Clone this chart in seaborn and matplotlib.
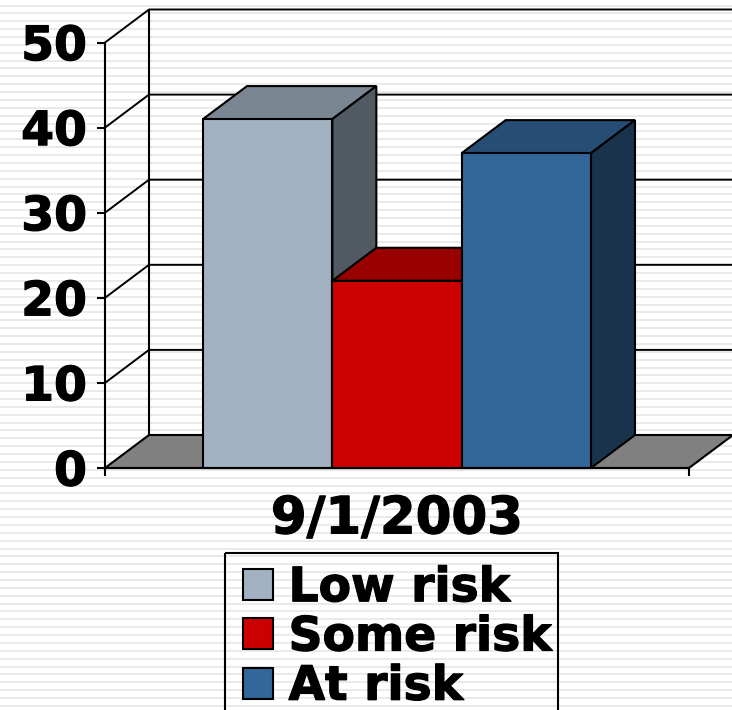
import matplotlib
matplotlib.use("Agg")
import matplotlib.pyplot as plt
import matplotlib.patheffects as pe
from matplotlib.patches import Patch, Polygon, Rectangle
import numpy as np
import pandas as pd
import seaborn as sns

# Survey results
date_label = ["9/1/2003"]
risk_groups = ["Low risk", "Some risk", "At risk"]
risk_values = [41, 22, 37]
y_ticks = [0, 10, 20, 30, 40, 50]

front_colors = ["#A2B2C2", "#CC0000", "#336699"]
top_colors = ["#7A8692", "#990000", "#264D73"]
side_colors = ["#515A62", "#660000", "#1A334D"]
floor_color = "#808080"
stripe_color = "#E8E8E8"

W, H = 732, 710
LEFT, RIGHT, BASE, TOP = 105, 689, 468, 42.5
PX_X = 1 / (RIGHT - LEFT)            # category units per pixel
PX_Y = 50 / (BASE - TOP)             # value units per pixel
DEPTH_X, DEPTH_Y = 44 * PX_X, 33 * PX_Y
LW = 1.5

sns.set_theme(style="white")
plt.rcParams["font.family"] = ["DejaVu Sans"]
plt.rcParams["font.weight"] = "bold"

fig = plt.figure(figsize=(W / 100, H / 100), dpi=100, facecolor="white")

# Slide background: thin horizontal pinstripes across the whole figure
bg = fig.add_axes([0, 0, 1, 1], zorder=0)
bg.set_xlim(0, W)
bg.set_ylim(H, 0)
bg.axis("off")
bg.hlines(np.arange(5.5, H, 7.87), 0, W, color=stripe_color, lw=1.3, zorder=1)

# Legend frame, running off the lower edge of the figure
bg.add_patch(Rectangle((225, 553), 333, 165, facecolor="none", edgecolor="black",
                       lw=1.5, zorder=3))

ax = fig.add_axes([LEFT / W, 1 - BASE / H, (RIGHT - LEFT) / W, (BASE - TOP) / H], zorder=1)
ax.patch.set_alpha(0)

df = pd.DataFrame({
    "date": date_label * len(risk_groups),
    "risk": risk_groups,
    "value": risk_values,
})
sns.barplot(
    data=df, x="date", y="value", hue="risk", hue_order=risk_groups,
    palette=front_colors, width=388 / 584, gap=0, saturation=1,
    edgecolor="black", linewidth=LW, legend=False, ax=ax,
)
ax.set_xlim(-0.5, 0.5)
ax.set_ylim(0, 50)


def face(points, color, z):
    ax.add_patch(Polygon(points, closed=True, facecolor=color, edgecolor="black",
                         lw=LW, joinstyle="miter", clip_on=False, zorder=z))


# Floor of the box
x0, x1 = -0.5, 0.5
face([(x0, 0), (x0 + DEPTH_X, DEPTH_Y), (x1 + DEPTH_X, DEPTH_Y), (x1, 0)], floor_color, 1.5)

# Back wall frame and receding gridlines
for v in y_ticks[1:]:
    ax.plot([x0, x0 + DEPTH_X, x1 + DEPTH_X], [v, v + DEPTH_Y, v + DEPTH_Y],
            color="black", lw=1.4, clip_on=False, zorder=1)
ax.plot([x0 + DEPTH_X] * 2, [DEPTH_Y, 50 + DEPTH_Y], color="black", lw=1.5,
        clip_on=False, zorder=1)

# Extrude each bar: top and side faces behind its front face
bars = [p for p in ax.patches if isinstance(p, Rectangle)][:len(risk_groups)]
for i, bar in enumerate(bars):
    xa, xb = bar.get_x(), bar.get_x() + bar.get_width()
    v = bar.get_height()
    z = 3 + 2 * i
    face([(xa, v), (xa + DEPTH_X, v + DEPTH_Y), (xb + DEPTH_X, v + DEPTH_Y), (xb, v)], top_colors[i], z)
    face([(xb, 0), (xb + DEPTH_X, DEPTH_Y), (xb + DEPTH_X, v + DEPTH_Y), (xb, v)], side_colors[i], z)
    bar.set_zorder(z + 1)
    bar.set_clip_on(False)

# Axes: value ticks on the left, category boundaries marked below
sns.despine(ax=ax, top=True, right=True)
for name in ("left", "bottom"):
    ax.spines[name].set_color("black")
    ax.spines[name].set_linewidth(1.5)
    ax.spines[name].set_zorder(10)
ax.set_xlabel("")
ax.set_ylabel("")
ax.set_yticks(y_ticks)
ax.set_xticks([0])
ax.set_xticks([x0, x1], minor=True)
ax.tick_params(axis="y", length=5.5, width=1.5, color="black", pad=7.5, left=True,
               labelsize=34, labelcolor="black")
ax.tick_params(axis="x", which="major", length=0, pad=19, labelsize=37, labelcolor="black")
ax.tick_params(axis="x", which="minor", length=5.5, width=1.5, color="black", bottom=True)

# Heavier lettering for all chart text
heavy = [pe.withStroke(linewidth=0.9, foreground="black")]
for label in ax.get_xticklabels() + ax.get_yticklabels():
    label.set_fontweight("bold")
    label.set_path_effects(heavy)

# Legend entries inside the frame
handles = [Patch(facecolor=c, edgecolor="black", linewidth=1.5, label=n)
           for c, n in zip(front_colors, risk_groups)]
leg = fig.legend(
    handles=handles, loc="upper left",
    bbox_to_anchor=(238 / W, 1 - 561.5 / H), bbox_transform=fig.transFigure,
    ncols=1, frameon=False,
    prop={"size": 34, "weight": "bold", "family": "DejaVu Sans"},
    handlelength=0.64, handleheight=0.64, handletextpad=0.33,
    labelspacing=0.09, borderpad=0.1, borderaxespad=0, labelcolor="black",
)
for text in leg.get_texts():
    text.set_path_effects(heavy)
leg.set_zorder(20)

fig.savefig("out.png", dpi=100)
